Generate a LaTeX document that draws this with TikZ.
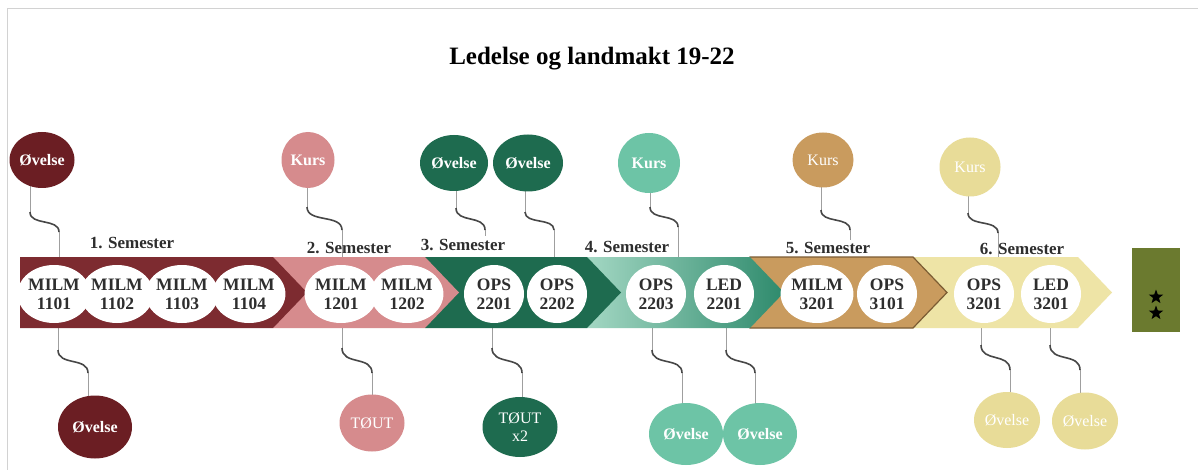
\documentclass[tikz,border=0pt]{standalone}
\usepackage{fontspec}
\setmainfont{Liberation Serif}
\usetikzlibrary{shapes.geometric,calc}
\pgfdeclarelayer{back}
\pgfdeclarelayer{bg}
\pgfsetlayers{back,bg,main}
\definecolor{cDR}{HTML}{7D2B30}
\definecolor{cDRd}{HTML}{6B1E23}
\definecolor{cPK}{HTML}{D68B8D}
\definecolor{cDG}{HTML}{1E6B4F}
\definecolor{cTL}{HTML}{6DC4A6}
\definecolor{cTLl}{HTML}{A3D7C3}
\definecolor{cTLd}{HTML}{2E8A6C}
\definecolor{cTN}{HTML}{C99B5E}
\definecolor{cTNe}{HTML}{7B5C33}
\definecolor{cYL}{HTML}{EEE4A6}
\definecolor{cYLc}{HTML}{E8DC98}
\definecolor{cOL}{HTML}{6B7A2F}
\definecolor{cTxt}{HTML}{2E2E2E}
\tikzset{
  bubble/.style={ellipse, inner sep=0pt, text=white, align=center},
  bb/.style={bubble, font=\bfseries\fontsize{16}{18}\selectfont},
  br/.style={bubble, font=\fontsize{16}{18}\selectfont},
  course/.style={ellipse, fill=white, inner sep=0pt, minimum width=60pt, minimum height=58pt,
    align=center, font=\bfseries\fontsize{17.5}{19}\selectfont, text=cTxt},
  sem/.style={font=\bfseries\fontsize{17}{19}\selectfont, text=cTxt},
  wireline/.style={draw=gray!75, line width=0.8pt},
  wirecurve/.style={draw=black!72, line width=1.6pt},
  starmark/.style={star, star points=5, star point ratio=2.4, fill=black, minimum size=15pt, inner sep=0},
}
\newcommand\topwire[4]{%
  \draw[wireline] (#2 |- #1.center) -- (#2);
  \draw[wirecurve] (#2) .. controls ($(#2)!0.7!(#2 |- #3)$) and ($(#3)!0.7!(#3 |- #2)$) .. (#3);
  \draw[wireline] (#3) -- (#4);}
\newcommand\botwire[4]{%
  \draw[wireline] (#1) -- (#2);
  \draw[wirecurve] (#2) .. controls ($(#2)!0.7!(#2 |- #3)$) and ($(#3)!0.7!(#3 |- #2)$) .. (#3);
  \draw[wireline] (#3) -- (#3 |- #4.center);}
\begin{document}
\begin{tikzpicture}[x=1pt,y=-1pt]
\useasboundingbox (0,0) rectangle (1198,470);
\begin{pgfonlayer}{back}
\fill[white] (0,0) rectangle (1198,470);
\draw[gray!35, line width=1pt] (7,470) -- (7,9) -- (1198,9);
\end{pgfonlayer}

\node[font=\bfseries\fontsize{25}{30}\selectfont, anchor=base] (title) at (592,65) {Ledelse og landmakt 19-22};

% band (right to left)
\fill[cYL] (913,257) -- (1078,257) -- (1112,292.5) -- (1078,328) -- (913,328) -- cycle;
\filldraw[fill=cTN, draw=cTNe, line width=1.2pt] (750,257) -- (913,257) -- (947,292.5) -- (913,328) -- (750,328) -- cycle;
\shade[left color=cTLl, right color=cTLd] (587,257) -- (750,257) -- (784,292.5) -- (750,328) -- (587,328) -- cycle;
\fill[cDG] (425,257) -- (587,257) -- (621,292.5) -- (587,328) -- (425,328) -- cycle;
\fill[cPK] (273,257) -- (425,257) -- (459,292.5) -- (425,328) -- (273,328) -- cycle;
\fill[cDR] (20,257) -- (273,257) -- (307,292.5) -- (273,328) -- (20,328) -- cycle;

% end rectangle
\node[fill=cOL, minimum width=48pt, minimum height=84pt, inner sep=0, anchor=north west] (grad) at (1132,248) {};
\node[starmark] (st1) at (1156,297) {};
\node[starmark] (st2) at (1156,313) {};

% courses
\node[course] (c1) at (54,294) {MILM\\1101};
\node[course] (c2) at (117,294) {MILM\\1102};
\node[course] (c3) at (182,294) {MILM\\1103};
\node[course] (c4) at (249,294) {MILM\\1104};
\node[course] (c5) at (341,294) {MILM\\1201};
\node[course] (c6) at (407,294) {MILM\\1202};
\node[course] (c7) at (494,294) {OPS\\2201};
\node[course] (c8) at (557,294) {OPS\\2202};
\node[course] (c9) at (656,294) {OPS\\2203};
\node[course] (c10) at (724,294) {LED\\2201};
\node[course] (c11) at (817,294) {MILM\\3201};
\node[course] (c12) at (887,294) {OPS\\3101};
\node[course] (c13) at (984,294) {OPS\\3201};
\node[course] (c14) at (1051,294) {LED\\3201};

% semester labels
\node[sem] (s1) at (132,243) {1. Semester};
\node[sem] (s2) at (349,248) {2. Semester};
\node[sem] (s3) at (463,245) {3. Semester};
\node[sem] (s4) at (627,247) {4. Semester};
\node[sem] (s5) at (828,248) {5. Semester};
\node[sem] (s6) at (1022,249) {6. Semester};

% top bubbles
\node[bb, fill=cDRd, minimum width=65pt, minimum height=56pt] (t1) at (42,160) {Øvelse};
\node[bb, fill=cPK, minimum width=53pt, minimum height=56pt] (t2) at (308,160) {Kurs};
\node[bb, fill=cDG, minimum width=68pt, minimum height=56pt] (t3) at (454,163) {Øvelse};
\node[bb, fill=cDG, minimum width=70pt, minimum height=57pt] (t4) at (528,163) {Øvelse};
\node[bb, fill=cTL, minimum width=62pt, minimum height=60pt] (t5) at (649,163) {Kurs};
\node[br, fill=cTN, minimum width=61pt, minimum height=55pt] (t6) at (823,160) {Kurs};
\node[br, fill=cYLc, minimum width=61pt, minimum height=59pt] (t7) at (970,167) {Kurs};

% bottom bubbles
\node[bb, fill=cDRd, minimum width=74pt, minimum height=63pt] (b1) at (95,427) {Øvelse};
\node[br, fill=cPK, minimum width=65pt, minimum height=57pt] (b2) at (372,423) {TØUT};
\node[br, fill=cDG, minimum width=75pt, minimum height=60pt] (b3) at (520,427) {TØUT\\x2};
\node[bb, fill=cTL, minimum width=74pt, minimum height=62pt] (b4) at (686,434) {Øvelse};
\node[bb, fill=cTL, minimum width=74pt, minimum height=62pt] (b5) at (760,434) {Øvelse};
\node[br, fill=cYLc, minimum width=66pt, minimum height=56pt] (b6) at (1007,420) {Øvelse};
\node[br, fill=cYLc, minimum width=66pt, minimum height=57pt] (b7) at (1085,421) {Øvelse};

% wire points
\coordinate (u1a) at (30,212);  \coordinate (u1b) at (59,232);  \coordinate (u1e) at (59,257);
\coordinate (u2a) at (307,207); \coordinate (u2b) at (342,230); \coordinate (u2e) at (342,257);
\coordinate (u3a) at (456,208); \coordinate (u3b) at (485,230); \coordinate (u3e) at (485,236);
\coordinate (u4a) at (525,212); \coordinate (u4b) at (554,230); \coordinate (u4e) at (554,257);
\coordinate (u5a) at (650,207); \coordinate (u5b) at (678,227); \coordinate (u5e) at (678,257);
\coordinate (u6a) at (821,210); \coordinate (u6b) at (850,230); \coordinate (u6e) at (850,240);
\coordinate (u7a) at (968,213); \coordinate (u7b) at (998,233); \coordinate (u7e) at (998,257);

\coordinate (d1s) at (58,328);   \coordinate (d1a) at (58,350);   \coordinate (d1b) at (88,373);
\coordinate (d2s) at (342,328);  \coordinate (d2a) at (342,348);  \coordinate (d2b) at (372,373);
\coordinate (d3s) at (492,328);  \coordinate (d3a) at (492,348);  \coordinate (d3b) at (522,373);
\coordinate (d4s) at (652,328);  \coordinate (d4a) at (652,350);  \coordinate (d4b) at (682,373);
\coordinate (d5s) at (726,328);  \coordinate (d5a) at (726,350);  \coordinate (d5b) at (755,373);
\coordinate (d6s) at (981,328);  \coordinate (d6a) at (981,345);  \coordinate (d6b) at (1010,370);
\coordinate (d7s) at (1050,328); \coordinate (d7a) at (1050,345); \coordinate (d7b) at (1080,370);

\begin{pgfonlayer}{bg}
\topwire{t1}{u1a}{u1b}{u1e}
\topwire{t2}{u2a}{u2b}{u2e}
\topwire{t3}{u3a}{u3b}{u3e}
\topwire{t4}{u4a}{u4b}{u4e}
\topwire{t5}{u5a}{u5b}{u5e}
\topwire{t6}{u6a}{u6b}{u6e}
\topwire{t7}{u7a}{u7b}{u7e}
\botwire{d1s}{d1a}{d1b}{b1}
\botwire{d2s}{d2a}{d2b}{b2}
\botwire{d3s}{d3a}{d3b}{b3}
\botwire{d4s}{d4a}{d4b}{b4}
\botwire{d5s}{d5a}{d5b}{b5}
\botwire{d6s}{d6a}{d6b}{b6}
\botwire{d7s}{d7a}{d7b}{b7}
\end{pgfonlayer}
\end{tikzpicture}
\end{document}
